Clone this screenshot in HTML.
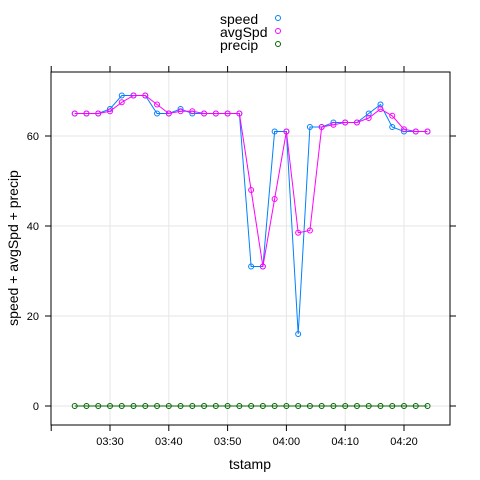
<!DOCTYPE html>
<html><head><meta charset="utf-8"><style>
html,body{margin:0;padding:0;background:#fff;}
svg{display:block;font-family:"Liberation Sans",Arial,sans-serif;}
</style></head><body>
<svg id="chart" width="480" height="480" viewBox="0 0 480 480" xmlns="http://www.w3.org/2000/svg">
<g id="grid"></g>
<g id="series"></g>
<rect x="51" y="72" width="399" height="353" fill="none" stroke="#000" stroke-width="1"/>
<g id="axes"></g>
<text x="250" y="469" font-size="14" text-anchor="middle">tstamp</text>
<text transform="translate(18,248) rotate(-90)" font-size="14" text-anchor="middle">speed + avgSpd + precip</text>
<g font-size="14">
<g><text x="220" y="24">speed</text><circle cx="278" cy="18" r="2.5" fill="none" stroke="#0080ff"/></g>
<g><text x="220" y="37">avgSpd</text><circle cx="278" cy="31" r="2.5" fill="none" stroke="#ff00ff"/></g>
<g><text x="220" y="50">precip</text><circle cx="278" cy="44" r="2.5" fill="none" stroke="#006400"/></g>
</g>
</svg>
<script>
// minutes after 03:20 for each observation
const minutes = [4,6,8,10,12,14,16,18,20,22,24,26,28,30,32,34,36,38,40,42,44,46,48,50,52,54,56,58,60,62,64];
const speed = [65,65,65,66,69,69,69,65,65,66,65,65,65,65,65,31,31,61,61,16,62,62,63,63,63,65,67,62,61,61,61];
const avgSpd = [65,65,65,65.5,67.5,69,69,67,65,65.5,65.5,65,65,65,65,48,31,46,61,38.5,39,62,62.5,63,63,64,66,64.5,61.5,61,61];
const precip = [0,0,0,0,0,0,0,0,0,0,0,0,0,0,0,0,0,0,0,0,0,0,0,0,0,0,0,0,0,0,0];
const xTickMinutes = [10,20,30,40,50,60];
const xTickLabels = ["03:30","03:40","03:50","04:00","04:10","04:20"];
const yTicks = [0,20,40,60];

const X = m => 51.2 + 5.88*m;
const Y = v => 406 - 4.5*v;
const NS = "http://www.w3.org/2000/svg";
function mk(tag, attrs, parent){const e=document.createElementNS(NS,tag);for(const k in attrs)e.setAttribute(k,attrs[k]);parent.appendChild(e);return e;}
const grid=document.getElementById('grid'), axes=document.getElementById('axes'), ser=document.getElementById('series');

xTickMinutes.forEach((m,i)=>{
  const x=X(m);
  const g=mk('line',{x1:x,x2:x,y1:72,y2:425,stroke:'#e6e6e6'},grid);
  
  
  const t=mk('text',{x:x,y:445,'font-size':11,'text-anchor':'middle'},axes);
  t.textContent=xTickLabels[i];
  
  
});
[0].concat(xTickMinutes).forEach(m=>{
  const x=X(m);
  const b=mk('line',{x1:x,x2:x,y1:425,y2:431,stroke:'#000'},axes);
  
  
  const t=mk('line',{x1:x,x2:x,y1:66,y2:72,stroke:'#000'},axes);
  
  
});
yTicks.forEach(v=>{
  const y=Y(v);
  const g=mk('line',{x1:51,x2:450,y1:y,y2:y,stroke:'#e6e6e6'},grid);
  
  
  const l=mk('line',{x1:45,x2:51,y1:y,y2:y,stroke:'#000'},axes);
  
  
  const r=mk('line',{x1:450,x2:456,y1:y,y2:y,stroke:'#000'},axes);
  
  
  const t=mk('text',{x:39,y:y+4,'font-size':11,'text-anchor':'end'},axes);
  t.textContent=String(v);
  
  
});

function drawSeries(vals,color,name){
  const g=mk('g',{},ser);
  
  
  const pts=vals.map((v,i)=>X(minutes[i]).toFixed(1)+','+Y(v).toFixed(1)).join(' ');
  const pl=mk('polyline',{points:pts,fill:'none',stroke:color,'stroke-width':1},g);
  
  
  vals.forEach((v,i)=>{
    const c=mk('circle',{cx:X(minutes[i]),cy:Y(v),r:2.5,fill:'none',stroke:color},g);
    
    
  });
}
drawSeries(speed,'#0080ff','speed');
drawSeries(avgSpd,'#ff00ff','avgspd');
drawSeries(precip,'#006400','precip');
</script>
</body></html>
